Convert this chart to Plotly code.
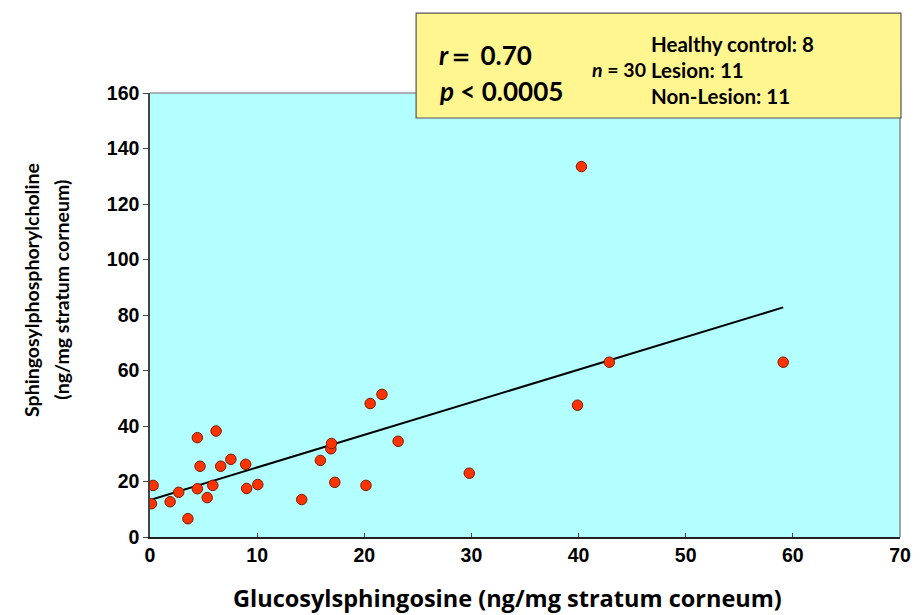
import numpy as np
import plotly.graph_objects as go

# Glucosylsphingosine (x) and sphingosylphosphorylcholine (y), ng/mg stratum corneum
gls = [0.29, 0.14, 1.88, 2.68, 3.54, 4.42, 4.42, 4.67, 5.34, 5.86,
       6.17, 6.60, 7.55, 8.93, 9.02, 10.06, 14.16, 15.90, 16.88, 16.94,
       17.25, 20.16, 20.55, 21.65, 23.16, 29.80, 39.90, 42.87, 59.10, 40.27]
spc = [18.6, 12.0, 12.7, 16.1, 6.6, 17.4, 35.8, 25.5, 14.2, 18.6,
       38.2, 25.5, 28.0, 26.2, 17.5, 18.9, 13.5, 27.6, 31.8, 33.7,
       19.7, 18.6, 48.1, 51.4, 34.5, 23.0, 47.5, 63.0, 63.0, 133.5]

x_ticks = [0, 10, 20, 30, 40, 50, 60, 70]
y_ticks = [0, 20, 40, 60, 80, 100, 120, 140, 160]

r_text = "0.70"
p_text = "< 0.0005"
n_total = 30
groups = ["Healthy control", "Lesion", "Non-Lesion"]
group_n = [8, 11, 11]
y_title_lines = ["Sphingosylphosphorylcholine", "(ng/mg stratum corneum)"]

# least-squares line over the observed x range
slope, intercept = np.polyfit(gls, spc, 1)
fit_x = np.array([0.0, max(gls)])
fit_y = intercept + slope * fit_x

TITLE_FONT = "Lato, 'Open Sans', sans-serif"
WIDE_FONT = "'Open Sans', Lato, sans-serif"
TICK_FONT = "'Liberation Sans', Arial, sans-serif"

fig = go.Figure()
fig.add_trace(go.Scatter(
    x=fit_x, y=fit_y, mode="lines",
    line=dict(color="black", width=2), hoverinfo="skip", showlegend=False))
fig.add_trace(go.Scatter(
    x=gls, y=spc, mode="markers",
    marker=dict(size=10.5, color="#ff3300", line=dict(color="#7a1a00", width=1)),
    showlegend=False))

fig.update_layout(
    width=923, height=615,
    margin=dict(l=150, r=12, t=93, b=78),
    paper_bgcolor="white",
    plot_bgcolor="#b3ffff",
    xaxis=dict(
        range=[0, 70], tickvals=x_ticks, ticks="inside", ticklen=4,
        tickcolor="#444", showgrid=False, zeroline=False,
        showline=True, linecolor="#222", linewidth=1.5, mirror=False,
        tickfont=dict(family=TICK_FONT, size=19.5, color="black", weight="bold"),
    ),
    yaxis=dict(
        range=[0, 160], tickvals=y_ticks, ticks="outside", ticklen=5,
        tickcolor="#444", showgrid=False, zeroline=False,
        showline=True, linecolor="#444", linewidth=1.5,
        tickfont=dict(family=TICK_FONT, size=19.5, color="black", weight="bold"),
    ),
)

# frame on the top and right of the plotting area
fig.add_shape(type="line", xref="paper", yref="paper", x0=0, x1=1, y0=1, y1=1,
              line=dict(color="#999", width=1.5))
fig.add_shape(type="line", xref="paper", yref="paper", x0=1, x1=1, y0=0, y1=1,
              line=dict(color="#888", width=1.5))

# axis titles
fig.add_annotation(
    text="Glucosylsphingosine (ng/mg stratum corneum)",
    xref="paper", yref="paper", x=0.477, y=-0.137, xanchor="center", yanchor="middle",
    showarrow=False, font=dict(family=WIDE_FONT, size=23.5, color="black", weight="bold"))
for line_text, xpos in zip(y_title_lines, [-0.159, -0.118]):
    fig.add_annotation(
        text=line_text, xref="paper", yref="paper", x=xpos, y=0.556,
        xanchor="center", yanchor="middle", textangle=-90, showarrow=False,
        font=dict(family=TITLE_FONT, size=19.5, color="black", weight="bold"))

# statistics box
fig.add_shape(type="rect", xref="paper", yref="paper",
              x0=0.3548, x1=1.0013, y0=0.9437, y1=1.180,
              fillcolor="#fff68f", line=dict(color="#555", width=1.2), layer="above")
fig.add_annotation(
    text=f"<i>r</i>\uff1d {r_text}", xref="paper", yref="paper",
    x=0.383, y=1.085, xanchor="left", yanchor="middle", showarrow=False,
    font=dict(family=TITLE_FONT, size=26, color="black", weight="bold"))
fig.add_annotation(
    text=f"<i>p</i> {p_text}", xref="paper", yref="paper",
    x=0.383, y=1.005, xanchor="left", yanchor="middle", showarrow=False,
    font=dict(family=TITLE_FONT, size=26, color="black", weight="bold"))
fig.add_annotation(
    text=f"<i>n</i> = {n_total}", xref="paper", yref="paper",
    x=0.587, y=1.054, xanchor="left", yanchor="middle", showarrow=False,
    font=dict(family=TITLE_FONT, size=19.5, color="black", weight="bold"))
for i, (g, n) in enumerate(zip(groups, group_n)):
    fig.add_annotation(
        text=f"{g}: {n}", xref="paper", yref="paper",
        x=0.665, y=1.110 - i * 0.058, xanchor="left", yanchor="middle", showarrow=False,
        font=dict(family=TITLE_FONT, size=20.5, color="black", weight="bold"))

fig.write_html("out.html")
